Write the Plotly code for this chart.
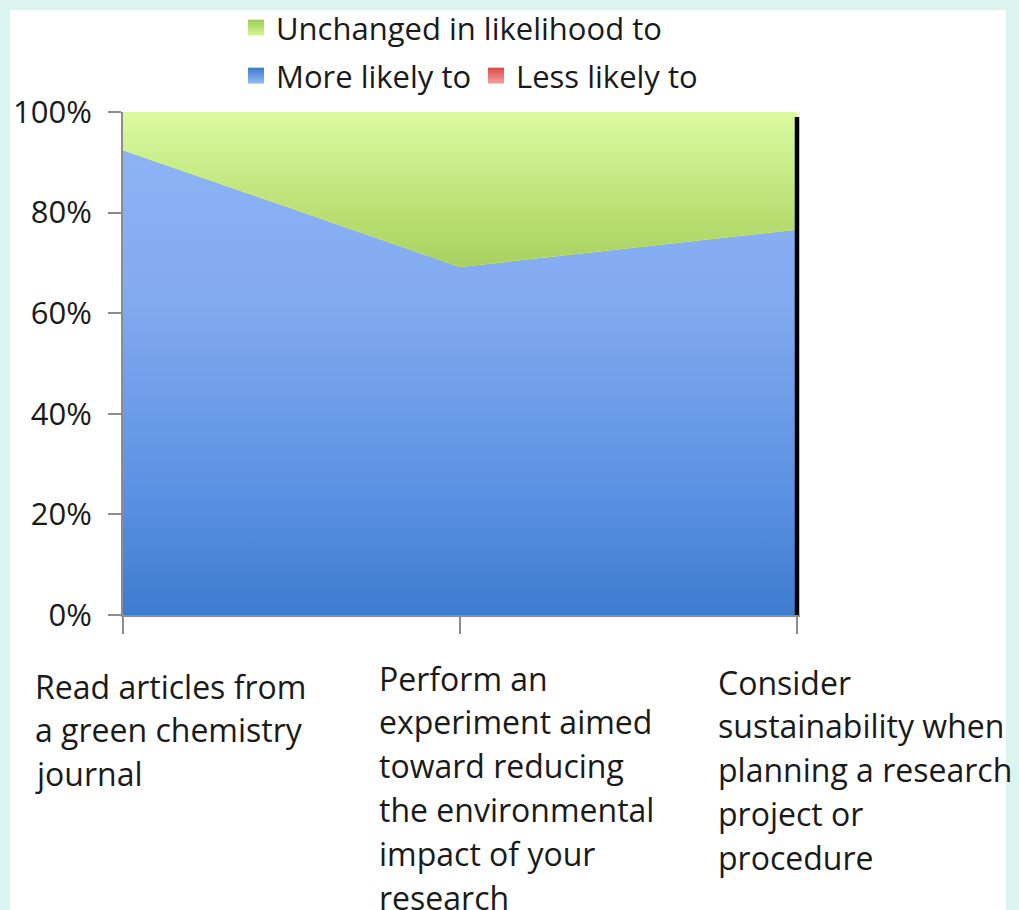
import plotly.graph_objects as go

categories = [
    "Read articles from a green chemistry journal",
    "Perform an experiment aimed toward reducing the environmental impact of your research",
    "Consider sustainability when planning a research project or procedure",
]
category_lines = [
    ["Read articles from", "a green chemistry", "journal"],
    ["Perform an", "experiment aimed", "toward reducing", "the environmental", "impact of your", "research"],
    ["Consider", "sustainability when", "planning a research", "project or", "procedure"],
]
more_likely = [92.4, 69.2, 76.6]
less_likely = [0.0, 0.0, 0.0]
unchanged = [7.6, 30.8, 23.4]
y_ticks = [0, 20, 40, 60, 80, 100]
y_tick_labels = [f"{v}%" for v in y_ticks]

FONT = "Open Sans"
W, H = 1019, 910
L, R, T, B = 123, 219, 112, 295
PW, PH = W - L - R, H - T - B
X_END = 2 * PW / (PW - 3)   # a few px of room to the right for the edge line


def px_x(px):
    return (px - L) / PW


def px_y(py):
    return (H - B - py) / PH


fig = go.Figure()

fig.add_trace(go.Scatter(
    x=categories, y=more_likely, name="More likely to", stackgroup="one",
    mode="none", showlegend=False, hoverinfo="y+name",
    fillgradient=dict(type="vertical", start=0, stop=100,
                      colorscale=[[0, "#3d7ccf"], [0.25, "#5d92e2"], [0.63, "#82aaf0"],
                                  [0.92, "#8db3f6"], [1, "#95b9f8"]]),
))
fig.add_trace(go.Scatter(
    x=categories, y=less_likely, name="Less likely to", stackgroup="one",
    mode="none", showlegend=False, fillcolor="#e05050", hoverinfo="y+name",
))
fig.add_trace(go.Scatter(
    x=categories, y=unchanged, name="Unchanged in likelihood to", stackgroup="one",
    mode="none", showlegend=False, hoverinfo="y+name",
    fillgradient=dict(type="vertical", start=0, stop=100,
                      colorscale=[[0, "#6a9e22"], [0.69, "#a8d061"], [0.77, "#b5dc6e"],
                                  [0.97, "#d6f79a"], [1, "#dcfa9e"]]),
))

# legend swatches
legend_items = [
    ("Unchanged in likelihood to", "#d8f79c", "#9ccb52", "legend"),
    ("More likely to", "#97bbf6", "#3c7bd0", "legend2"),
    ("Less likely to", "#f4a4a4", "#de4545", "legend2"),
]
for name, c_top, c_bot, lg in legend_items:
    fig.add_trace(go.Scatter(
        x=[None], y=[None], name=name, mode="markers", legend=lg,
        marker=dict(symbol="square", size=16, color=c_bot,
                    gradient=dict(type="vertical", color=c_top)),
    ))

# white inner panel
fig.add_shape(type="rect", xref="paper", yref="paper",
              x0=px_x(10), x1=px_x(1006), y0=px_y(960), y1=px_y(10),
              fillcolor="white", line_width=0, layer="below")

# right edge line
fig.add_shape(type="line", xref="x", yref="y domain",
              x0=categories[-1], x1=categories[-1], y0=0, y1=0.99,
              line=dict(color="black", width=4.5))

# category labels
x_offsets = [-90, -83, -81]
y_starts = [686, 678, 682]
line_gap = 43.9
for cat, lines, xo, ys in zip(categories, category_lines, x_offsets, y_starts):
    for i, ln in enumerate(lines):
        fig.add_annotation(
            x=cat, xref="x", y=px_y(ys + i * line_gap), yref="paper",
            text=ln, showarrow=False, xanchor="left", yanchor="middle",
            xshift=xo, font=dict(family=FONT, size=32, color="#1a1a1a"),
        )

fig.update_layout(
    width=W, height=H,
    margin=dict(l=L, r=R, t=T, b=B, pad=0, autoexpand=False),
    paper_bgcolor="#dcf4f0",
    plot_bgcolor="white",
    font=dict(family=FONT, size=31, color="#1a1a1a"),
    legend=dict(orientation="h", x=px_x(236), y=px_y(28), xanchor="left", yanchor="middle",
                bgcolor="rgba(0,0,0,0)", font=dict(size=31), itemclick=False),
    legend2=dict(orientation="h", x=px_x(236), y=px_y(76), xanchor="left", yanchor="middle",
                 bgcolor="rgba(0,0,0,0)", font=dict(size=31), entrywidth=195,
                 entrywidthmode="pixels", itemclick=False),
    xaxis=dict(
        range=[0, X_END], showgrid=False, zeroline=False, showline=True,
        linecolor="#8c8c8c", linewidth=2, ticks="outside", ticklen=17,
        tickcolor="#8c8c8c", tickwidth=2, showticklabels=False,
    ),
    yaxis=dict(
        range=[0, 100], tickmode="array", tickvals=y_ticks, ticktext=y_tick_labels,
        showgrid=False, zeroline=False, showline=True, linecolor="#8c8c8c", linewidth=2,
        ticks="outside", ticklen=13, tickcolor="#8c8c8c", tickwidth=2,
        ticklabelstandoff=10,
        tickfont=dict(family=FONT, size=31, color="#1a1a1a"),
    ),
)

fig.write_html(
    "out.html",
    config={"displayModeBar": False},
    post_script="document.body.style.margin='0';document.body.style.background='#dcf4f0';",
)
